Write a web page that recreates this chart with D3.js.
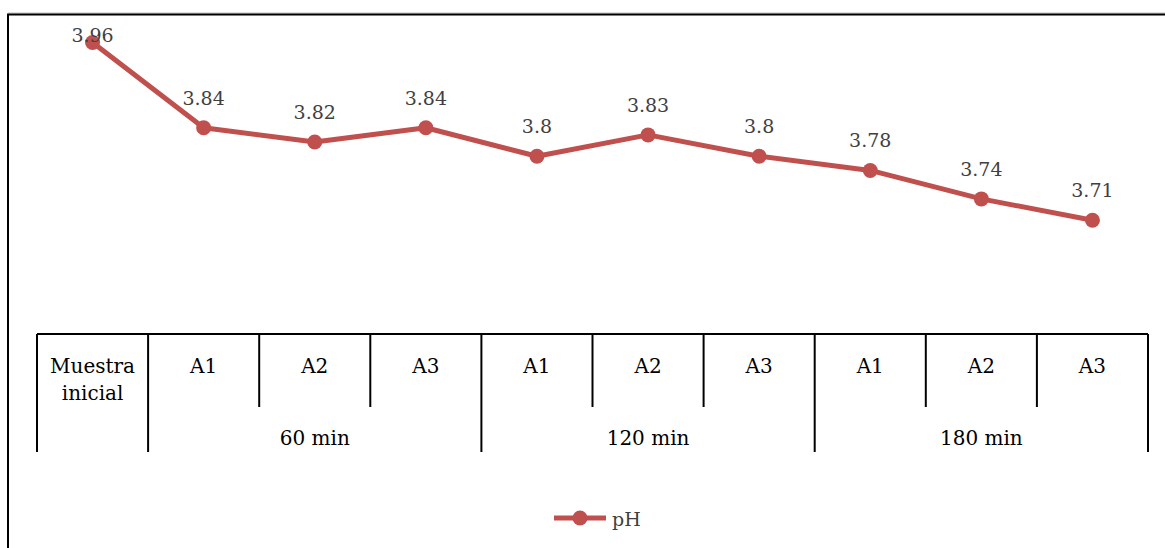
<!DOCTYPE html>
<html>
<head>
<meta charset="utf-8">
<script src="https://cdn.jsdelivr.net/npm/d3@7"></script>
<style>
  html, body { margin: 0; padding: 0; background: #fff; }
  svg { display: block; }
  text { font-family: "DejaVu Serif", "Liberation Serif", serif; }
</style>
</head>
<body>
<svg id="chart" width="1165" height="548"></svg>
<script>
// Muestras: inicial y tres réplicas por tiempo de tratamiento
const categories = ["Muestra inicial", "A1", "A2", "A3", "A1", "A2", "A3", "A1", "A2", "A3"];
const groups = [
  { label: "60 min", start: 1, end: 4 },
  { label: "120 min", start: 4, end: 7 },
  { label: "180 min", start: 7, end: 10 }
];
const phValues = [3.96, 3.84, 3.82, 3.84, 3.8, 3.83, 3.8, 3.78, 3.74, 3.71];
const seriesName = "pH";

const color = "#C0504D";
const svg = d3.select("#chart");

// Marco exterior del gráfico
svg.append("line").attr("x1", 8).attr("x2", 1165).attr("y1", 13).attr("y2", 13)
  .attr("stroke", "#bbb").attr("stroke-width", 1);
svg.append("rect").attr("x", 8).attr("y", 14.5).attr("width", 1170).attr("height", 560)
  .attr("fill", "none").attr("stroke", "#000").attr("stroke-width", 2);

const left = 37, right = 1148, axisY = 334;
const x = d3.scaleBand().domain(d3.range(categories.length)).range([left, right]).padding(0);
const y = d3.scaleLinear().domain([3.55, 4.0]).range([axisY, 14]);

// Eje de categorías con niveles
const axis = svg.append("g");
axis.append("line").attr("x1", left).attr("x2", right).attr("y1", axisY).attr("y2", axisY)
  .attr("stroke", "#000").attr("stroke-width", 2);

const groupEdges = new Set([0, 1, 4, 7, 10]);
d3.range(categories.length + 1).forEach(i => {
  const xx = i < categories.length ? x(i) : right;
  axis.append("line")
    .attr("x1", xx).attr("x2", xx)
    .attr("y1", axisY).attr("y2", groupEdges.has(i) ? 452 : 407)
    .attr("stroke", "#000").attr("stroke-width", 2);
});

categories.forEach((c, i) => {
  const words = c.split(" ");
  const t = axis.append("text")
    .attr("x", x(i) + x.bandwidth() / 2)
    .attr("y", 373)
    .attr("text-anchor", "middle")
    .attr("font-size", 20)
    .attr("fill", "#000");
  words.forEach((w, k) => {
    t.append("tspan").attr("x", x(i) + x.bandwidth() / 2).attr("dy", k === 0 ? 0 : 27).text(w);
  });
});

groups.forEach(g => {
  const cx = (x(g.start) + (g.end < categories.length ? x(g.end) : right)) / 2;
  axis.append("text")
    .attr("x", cx).attr("y", 445)
    .attr("text-anchor", "middle")
    .attr("font-size", 20)
    .attr("fill", "#000")
    .text(g.label);
});

// Serie de pH
const cxOf = i => x(i) + x.bandwidth() / 2;
const line = d3.line().x((d, i) => cxOf(i)).y(d => y(d));
svg.append("path").datum(phValues)
  .attr("d", line)
  .attr("fill", "none")
  .attr("stroke", color)
  .attr("stroke-width", 5)
  .attr("stroke-linejoin", "round");

svg.selectAll("circle.pt").data(phValues).enter().append("circle")
  .attr("class", "pt")
  .attr("cx", (d, i) => cxOf(i))
  .attr("cy", d => y(d))
  .attr("r", 7.5)
  .attr("fill", color);

// Etiquetas de valor (la primera queda sobre el punto por el borde superior)
svg.selectAll("text.lbl").data(phValues).enter().append("text")
  .attr("class", "lbl")
  .attr("x", (d, i) => cxOf(i))
  .attr("y", (d, i) => i === 0 ? y(d) : y(d) - 23)
  .attr("text-anchor", "middle")
  .attr("font-size", 19)
  .attr("fill", "#404040")
  .text(d => d);

// Leyenda
const lg = svg.append("g");
lg.append("line").attr("x1", 554).attr("x2", 606).attr("y1", 518).attr("y2", 518)
  .attr("stroke", color).attr("stroke-width", 5);
lg.append("circle").attr("cx", 580).attr("cy", 518).attr("r", 7.5).attr("fill", color);
lg.append("text").attr("x", 612).attr("y", 526).attr("font-size", 19)
  .attr("fill", "#404040").text(seriesName);
</script>
</body>
</html>
